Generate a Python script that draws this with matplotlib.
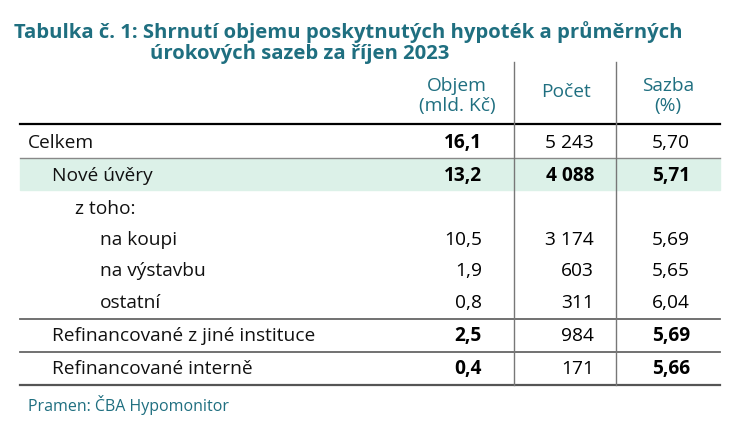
import matplotlib.pyplot as plt

title = ["Tabulka č. 1: Shrnutí objemu poskytnutých hypoték a průměrných",
         "úrokových sazeb za říjen 2023"]
headers = ["Objem\n(mld. Kč)", "Počet", "Sazba\n(%)"]
labels = ["Celkem", "Nové úvěry", "z toho:", "na koupi", "na výstavbu", "ostatní",
          "Refinancované z jiné instituce", "Refinancované interně"]
indent = [0, 1, 2, 3, 3, 3, 1, 1]
objem = ["16,1", "13,2", "", "10,5", "1,9", "0,8", "2,5", "0,4"]
pocet = ["5 243", "4 088", "", "3 174", "603", "311", "984", "171"]
sazba = ["5,70", "5,71", "", "5,69", "5,65", "6,04", "5,69", "5,66"]
bold_objem = [True, True, False, False, False, False, True, True]
bold_pocet = [False, True, False, False, False, False, False, False]
bold_sazba = [False, True, False, False, False, False, True, True]

teal = "#1f6f80"
plt.rcParams["font.family"] = "Open Sans"
fig = plt.figure(figsize=(7.4, 4.22), dpi=100)
ax = fig.add_axes([0, 0, 1, 1])
ax.set_xlim(0, 740)
ax.set_ylim(422, 0)
ax.axis("off")
fs = 13.8

ax.text(14, 32, title[0], color=teal, fontsize=14.6, fontweight="bold", va="center")
ax.text(150, 54, title[1], color=teal, fontsize=14.6, fontweight="bold", va="center")

hx = [457, 566, 668]
for x, h in zip(hx, headers):
    ax.text(x, 96 if "\n" in h else 92, h, color=teal, fontsize=fs, ha="center", va="center",
            linespacing=1.1)

# ligne surlignee
ax.add_patch(plt.Rectangle((20, 159), 700, 31, color="#dcf1e8", zorder=0))
ax.plot([20, 720], [124, 124], color="black", lw=1.6)
ax.plot([20, 720], [158, 158], color="#888888", lw=1)
ax.plot([20, 720], [319, 319], color="#666666", lw=1.3)
ax.plot([20, 720], [352, 352], color="#666666", lw=1.3)
ax.plot([20, 720], [385, 385], color="#555555", lw=1.6)
for x in [514, 616]:
    ax.plot([x, x], [62, 385], color="#777777", lw=1)

row_y = [143, 176, 209, 240, 271, 303, 336, 369]
ind_x = [28, 52, 75, 100]
for i, y in enumerate(row_y):
    ax.text(ind_x[indent[i]], y, labels[i], fontsize=fs, va="center", color="#111111")
    ax.text(482, y, objem[i], fontsize=fs, va="center", ha="right",
            fontweight="bold" if bold_objem[i] else "normal")
    ax.text(594, y, pocet[i], fontsize=fs, va="center", ha="right",
            fontweight="bold" if bold_pocet[i] else "normal")
    ax.text(690, y, sazba[i], fontsize=fs, va="center", ha="right",
            fontweight="bold" if bold_sazba[i] else "normal")

ax.text(28, 405, "Pramen: ČBA Hypomonitor", color=teal, fontsize=11.5, va="center")
fig.savefig("out.png", dpi=100)
